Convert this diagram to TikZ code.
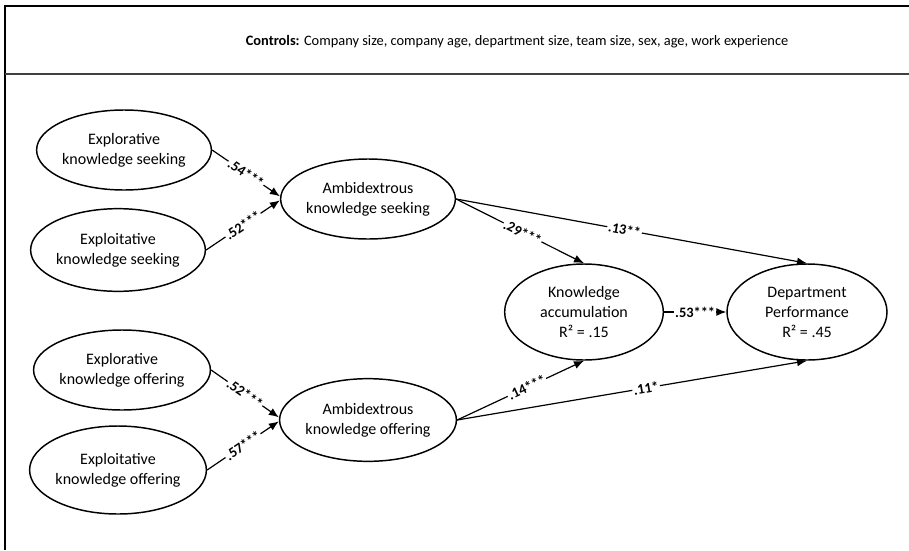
\documentclass[tikz,border=0pt]{standalone}
\usepackage{fontspec}
\setmainfont{Carlito}
\usetikzlibrary{shapes.geometric,arrows.meta}
\begin{document}
\begin{tikzpicture}[x=0.75pt,y=-0.75pt,
  latent/.style={ellipse,draw,line width=1.1pt,inner sep=0pt,align=center,
    minimum width=120pt,minimum height=60pt,font=\fontsize{12}{15}\selectfont},
  conn/.style={line width=0.9pt,-{Latex[length=7.5pt,width=6pt]}},
  coef/.style={sloped,fill=white,inner sep=0.8pt,font=\fontsize{10.8}{12}\selectfont\bfseries}]
\useasboundingbox (0,0) rectangle (909,550);
\draw[line width=1.5pt] (5,550) -- (5,6) -- (909,6);
\draw[line width=1.5pt,black!75] (5,74) -- (909,74);
\node[font=\fontsize{10.8}{13}\selectfont] (ctrl) at (517,42) {\textbf{Controls:} Company size, company age, department size, team size, sex, age, work experience};

\node[latent] (ES) at (124,150) {Explorative\\knowledge seeking};
\node[latent,minimum height=62pt] (XS) at (118,250) {Exploitative\\knowledge seeking};
\node[latent] (EO) at (122,370) {Explorative\\knowledge offering};
\node[latent,minimum height=66pt] (XO) at (118,470) {Exploitative\\knowledge offering};
\node[latent] (AS) at (368,199) {Ambidextrous\\knowledge seeking};
\node[latent,minimum height=62pt] (AO) at (368,420) {Ambidextrous\\knowledge offering};
\node[latent,minimum width=119pt,minimum height=72pt] (KA) at (584,312) {Knowledge\\accumulation\\R² = .15};
\node[latent,minimum height=72pt] (DP) at (807,312) {Department\\Performance\\R² = .45};

\draw[conn] (ES.east) -- node[coef] {.54***} ([yshift=2pt]AS.west);
\draw[conn] (XS.east) -- node[coef] {.52***} ([yshift=-1pt]AS.west);
\draw[conn] (EO.east) -- node[coef] {.52***} ([yshift=2pt]AO.west);
\draw[conn] (XO.east) -- node[coef] {.57***} ([yshift=-1pt]AO.west);
\draw[conn] (AS.east) -- node[coef,pos=0.52] {.29***} (KA.north);
\draw[conn] (AS.east) -- node[coef,pos=0.48] {.13**} (DP.north);
\draw[conn] (AO.east) -- node[coef,pos=0.55] {.14***} (KA.south);
\draw[conn] (AO.east) -- node[coef,pos=0.54] {.11*} (DP.south);
\draw[conn] (KA.east) -- node[coef] {.53***} (DP.west);
\end{tikzpicture}
\end{document}
